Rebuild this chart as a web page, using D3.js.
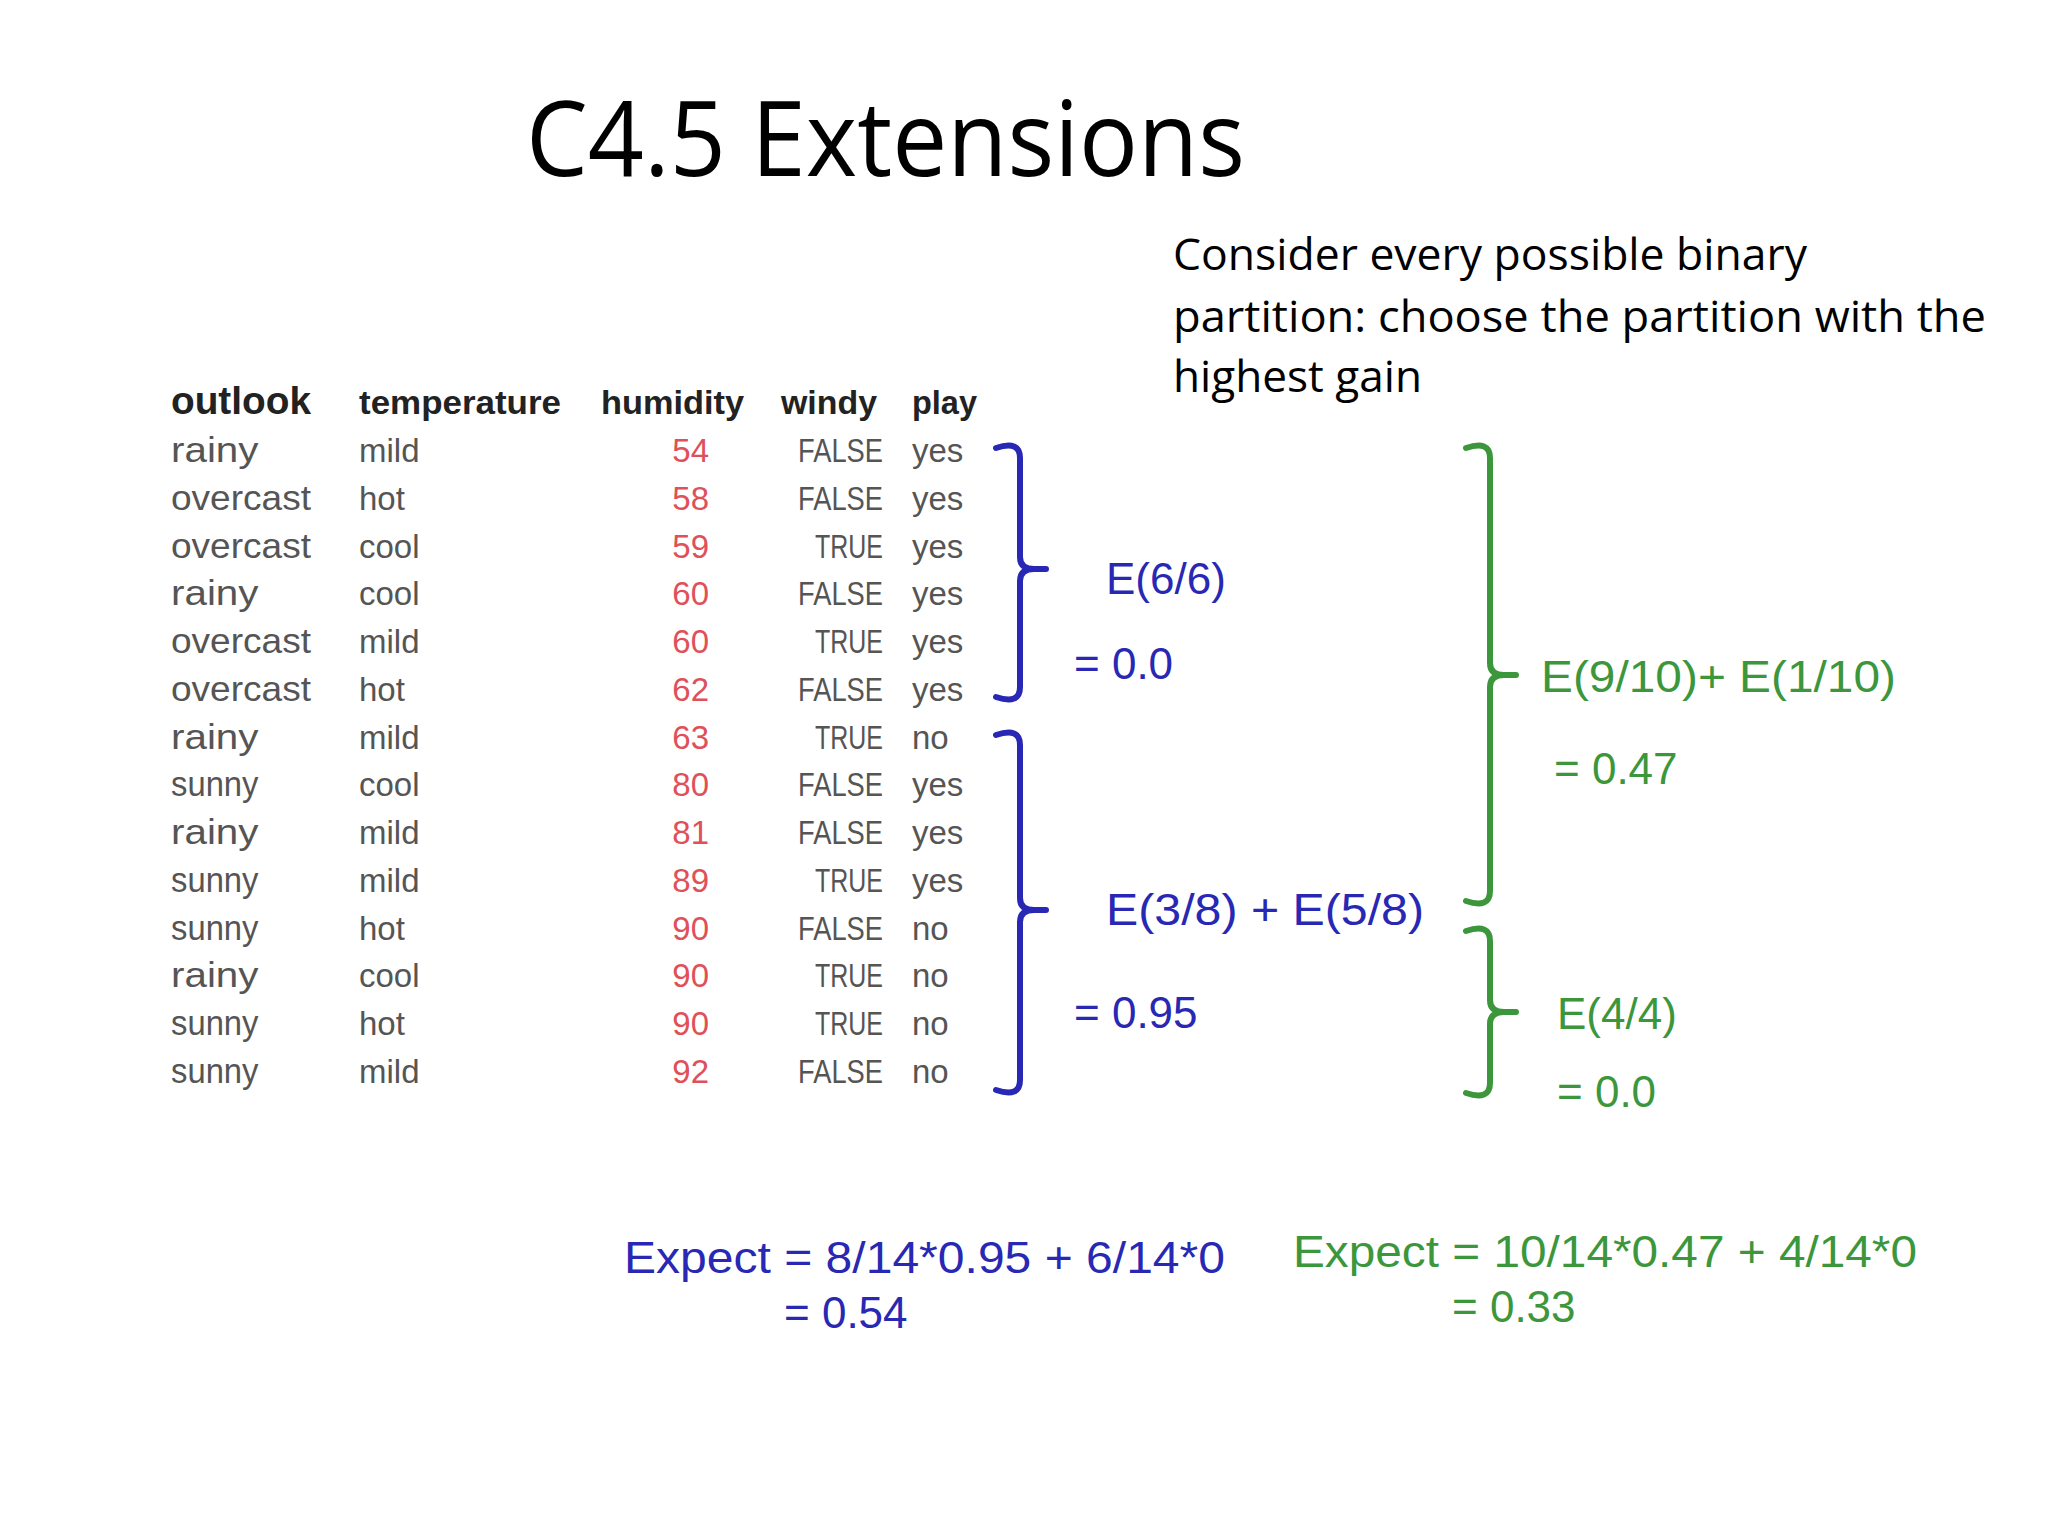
<!DOCTYPE html><html><head><meta charset="utf-8"><script src="https://cdn.jsdelivr.net/npm/d3@7"></script>
<style>body{margin:0;background:#fff}</style></head><body><script>
const headers=["outlook","temperature","humidity","windy","play"];
const outlook=["rainy","overcast","overcast","rainy","overcast","overcast","rainy","sunny","rainy","sunny","sunny","rainy","sunny","sunny"];
const temperature=["mild","hot","cool","cool","mild","hot","mild","cool","mild","mild","hot","cool","hot","mild"];
const humidity=[54,58,59,60,60,62,63,80,81,89,90,90,90,92];
const windy=["FALSE","FALSE","TRUE","FALSE","TRUE","FALSE","TRUE","FALSE","FALSE","TRUE","FALSE","TRUE","TRUE","FALSE"];
const play=["yes","yes","yes","yes","yes","yes","no","yes","yes","yes","no","no","no","no"];
const W=2048,H=1536;
const svg=d3.select("body").append("svg").attr("width",W).attr("height",H);
const y=d3.scaleLinear().domain([0,13]).range([462,1083]);
const F="Liberation Sans, Arial, sans-serif";
function t(x,yy,s,size,col,opt={}){const e=svg.append("text").attr("x",x).attr("y",yy).text(s).attr("font-size",size).attr("fill",col).attr("font-family",opt.f||F);
 if(opt.a)e.attr("text-anchor",opt.a); if(opt.w)e.attr("font-weight",opt.w); if(opt.L)e.attr("textLength",opt.L).attr("lengthAdjust","spacingAndGlyphs"); return e;}
t(526,176,"C4.5 Extensions",104,"#000",{f:"Open Sans, sans-serif",L:719});
t(1173,270,"Consider every possible binary",44,"#000",{f:"Open Sans, sans-serif",L:634});
t(1173,332,"partition: choose the partition with the",44,"#000",{f:"Open Sans, sans-serif",L:813});
t(1173,392,"highest gain",44,"#000",{f:"Open Sans, sans-serif",L:249});
const hx=[171,359,601,781,912],hL=[140,202,143,96,65];
headers.forEach((h,i)=>t(hx[i],414,h,i==0?38:33,"#222",{w:"bold",L:hL[i]}));
const g="#555";
outlook.forEach((v,i)=>t(171,y(i),v,35,g,{L:v.length*17.5}));
temperature.forEach((v,i)=>t(359,y(i),v,33,g));
humidity.forEach((v,i)=>t(709,y(i),v,33,"#e0505a",{a:"end"}));
windy.forEach((v,i)=>t(883,y(i),v,33,g,{a:"end",L:v.length*17}));
play.forEach((v,i)=>t(912,y(i),v,33,g));
function brace(x,y0,y1,ym,col){
 const p=d3.path();p.moveTo(x-24,y0+4);p.quadraticCurveTo(x,y0-4,x,y0+14);p.lineTo(x,ym-12);p.quadraticCurveTo(x,ym,x+14,ym);p.lineTo(x+26,ym);
 p.moveTo(x+14,ym);p.quadraticCurveTo(x,ym,x,ym+12);p.lineTo(x,y1-14);p.quadraticCurveTo(x,y1+4,x-24,y1-4);
 svg.append("path").attr("d",p.toString()).attr("fill","none").attr("stroke",col).attr("stroke-width",6).attr("stroke-linecap","round");
}
const B="#2828b4",G="#3c963c";
brace(1020,444,701,569,B);brace(1020,731,1094,910,B);
brace(1490,444,905,675,G);brace(1490,927,1097,1012,G);
t(1106,594,"E(6/6)",44,B);t(1074,679,"= 0.0",44,B);
t(1106,925,"E(3/8) + E(5/8)",44,B,{L:318});t(1074,1028,"= 0.95",44,B);
t(1541,692,"E(9/10)+ E(1/10)",44,G,{L:355});t(1554,784,"= 0.47",44,G);
t(1557,1029,"E(4/4)",44,G);t(1557,1107,"= 0.0",44,G);
t(624,1273,"Expect = 8/14*0.95 + 6/14*0",44,B,{L:601});t(784,1328,"= 0.54",44,B);
t(1293,1267,"Expect = 10/14*0.47 + 4/14*0",44,G,{L:624});t(1452,1322,"= 0.33",44,G);
</script></body></html>
